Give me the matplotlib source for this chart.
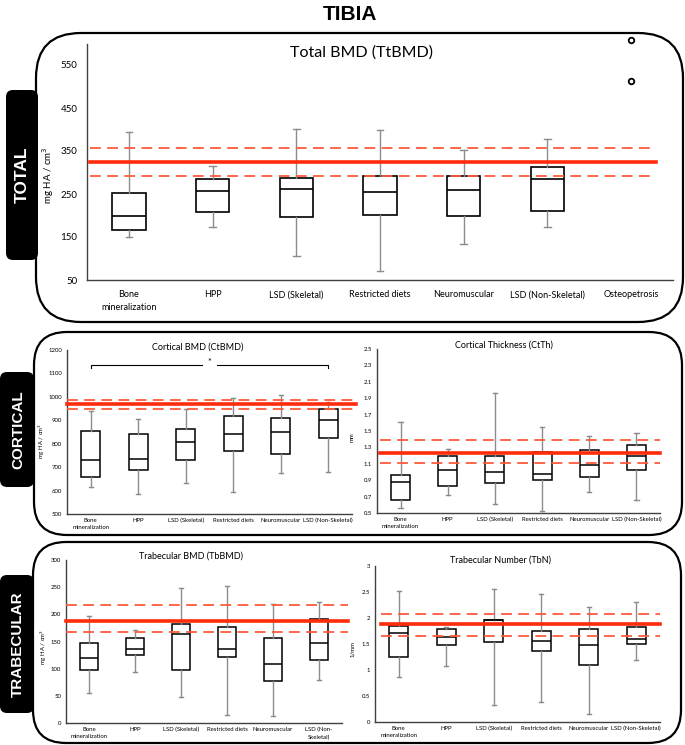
import matplotlib.pyplot as plt
from matplotlib.patches import FancyBboxPatch

plt.rcParams['font.family'] = ['Lato', 'DejaVu Sans']

W, H = 685, 745
RED = '#FF2B0A'
RED_DASH = '#FF5A3C'
WHISK = '#8C8C8C'
AXIS = '#404040'

groups7 = ['Bone\nmineralization', 'HPP', 'LSD (Skeletal)', 'Restricted diets',
           'Neuromuscular', 'LSD (Non-Skeletal)', 'Osteopetrosis']
groups6 = groups7[:6]
groups6_tb = groups7[:5] + ['LSD (Non-\nSkeletal)']

# Total BMD (mg HA / cm3)
tt_lo = [151, 173, 106, 70, 134, 173]
tt_q1 = [166, 208, 197, 201, 198, 211]
tt_med = [198, 257, 262, 254, 259, 284]
tt_q3 = [252, 285, 288, 291, 291, 312]
tt_hi = [394, 314, 402, 398, 352, 379]
tt_osteo = [607, 512]
tt_ref = [324, 291, 358]   # reference mean, lower, upper

# Cortical BMD (mg HA / cm3)
ct_lo = [614, 587, 634, 594, 674, 681]
ct_q1 = [659, 688, 730, 770, 755, 823]
ct_med = [730, 733, 809, 843, 849, 903]
ct_q3 = [854, 841, 864, 920, 908, 950]
ct_hi = [940, 905, 950, 997, 1007, 977]
ct_ref = [971, 948, 985]

# Cortical thickness (mm)
th_lo = [0.56, 0.72, 0.61, 0.53, 0.76, 0.66]
th_q1 = [0.66, 0.83, 0.87, 0.90, 0.94, 1.03]
th_med = [0.88, 1.03, 1.00, 0.98, 1.09, 1.20]
th_q3 = [0.96, 1.19, 1.20, 1.25, 1.27, 1.33]
th_hi = [1.61, 1.28, 1.96, 1.55, 1.44, 1.47]
th_ref = [1.23, 1.11, 1.39]

# Trabecular BMD (mg HA / cm3)
tb_lo = [56, 93, 47, 15, 13, 79]
tb_q1 = [97, 126, 98, 121, 77, 116]
tb_med = [119, 136, 164, 137, 108, 147]
tb_q3 = [147, 156, 182, 176, 156, 192]
tb_hi = [197, 171, 249, 252, 219, 223]
tb_ref = [188, 168, 218]

# Trabecular number (1/mm)
tn_lo = [0.87, 1.07, 0.32, 0.39, 0.16, 1.20]
tn_q1 = [1.25, 1.49, 1.53, 1.36, 1.09, 1.50]
tn_med = [1.72, 1.63, 1.96, 1.56, 1.49, 1.59]
tn_q3 = [1.85, 1.78, 1.97, 1.75, 1.79, 1.83]
tn_hi = [2.51, 1.83, 2.55, 2.47, 2.22, 2.31]
tn_ref = [1.88, 1.65, 2.08]

fig = plt.figure(figsize=(W / 100, H / 100), dpi=100, facecolor='white')

# background layer in pixel coordinates for frames and side labels
bg = fig.add_axes([0, 0, 1, 1], zorder=0)
bg.set_xlim(0, W)
bg.set_ylim(H, 0)
bg.axis('off')


def side_label(x0, y0, x1, y1, text, cx, cy, fs):
    bg.add_patch(FancyBboxPatch((x0, y0), x1 - x0, y1 - y0,
                                boxstyle='round,pad=0,rounding_size=7',
                                fc='black', ec='black', lw=0))
    bg.text(cx, cy, text, rotation=90, ha='center', va='center', color='white',
            fontsize=fs, fontweight='bold', family='Liberation Sans')


def frame(x0, y0, x1, y1, r):
    bg.add_patch(FancyBboxPatch((x0, y0), x1 - x0, y1 - y0,
                                boxstyle=f'round,pad=0,rounding_size={r}',
                                fc='none', ec='black', lw=1.6))


side_label(6, 90, 38, 260, 'TOTAL', 22, 175, 12.5)
side_label(0, 372, 34, 487, 'CORTICAL', 18, 430, 11)
side_label(0, 575, 34, 713, 'TRABECULAR', 18, 644, 11)
frame(36, 33, 683, 322, 45)
frame(34, 332, 682, 535, 33)
frame(33, 542, 681, 743, 33)

bg.text(350, 15, 'TIBIA', ha='center', va='center', fontsize=15,
        fontweight='bold', family='Liberation Sans')


def ax_px(x0, y0, x1, y1):
    return fig.add_axes([x0 / W, 1 - y1 / H, (x1 - x0) / W, (y1 - y0) / H], zorder=2)


def box_panel(ax, lo, q1, med, q3, hi, ref, ylim, yticks, yticklabels, labels,
              fs_tick, fs_x, capw, lw_box, ref_span, xpad, ypad):
    stats = [dict(whislo=a, q1=b, med=c, q3=d, whishi=e, fliers=[])
             for a, b, c, d, e in zip(lo, q1, med, q3, hi)]
    ax.bxp(stats, positions=range(1, len(stats) + 1), widths=0.4,
           capwidths=capw, showfliers=False, patch_artist=True,
           boxprops=dict(facecolor='white', edgecolor='black', linewidth=lw_box),
           medianprops=dict(color='black', linewidth=lw_box),
           whiskerprops=dict(color=WHISK, linewidth=1.0),
           capprops=dict(color=WHISK, linewidth=1.0), zorder=2)
    ax.axhline(ref[0], xmin=ref_span[0], xmax=ref_span[1], color=RED, lw=2.6,
               zorder=4, clip_on=False)
    for v in ref[1:]:
        ax.axhline(v, xmin=ref_span[0], xmax=ref_span[1], color=RED_DASH, lw=1.3,
                   ls=(0, (6, 3.5)), zorder=4, clip_on=False)
    ax.set_xlim(0.5, len(labels) + 0.5)
    ax.set_ylim(*ylim)
    ax.set_yticks(yticks)
    ax.set_yticklabels(yticklabels, fontsize=fs_tick)
    ax.set_xticks(range(1, len(labels) + 1))
    ax.set_xticklabels(labels, fontsize=fs_x, linespacing=1.5)
    ax.tick_params(length=0)
    ax.tick_params(axis='x', pad=xpad)
    ax.tick_params(axis='y', pad=ypad)
    for s in ['top', 'right']:
        ax.spines[s].set_visible(False)
    for s in ['left', 'bottom']:
        ax.spines[s].set_color(AXIS)
        ax.spines[s].set_linewidth(1.0)
    ax.set_facecolor('none')


# Total BMD
ax0 = ax_px(87, 43.5, 673, 280)
box_panel(ax0, tt_lo, tt_q1, tt_med, tt_q3, tt_hi, tt_ref, (50, 600),
          [50, 150, 250, 350, 450, 550], ['50', '150', '250', '350', '450', '550'],
          groups7, 7, 6.5, 0.08, 1.2, (0.005, 0.971), 7.5, 7)
ax0.plot([7] * len(tt_osteo), tt_osteo, 'o', mfc='white', mec='black', ms=4,
         mew=1.3, clip_on=False, zorder=5)
ax0.text(0.468, 0.96, 'Total BMD (TtBMD)', transform=ax0.transAxes,
         ha='center', va='center', fontsize=11.5)
ax0.set_ylabel(r'mg HA / cm$^3$', fontsize=7)
ax0.yaxis.set_label_coords(-31 / 586, 0.444)

# Cortical BMD
ax1 = ax_px(67, 350, 352, 514)
box_panel(ax1, ct_lo, ct_q1, ct_med, ct_q3, ct_hi, ct_ref, (500, 1200),
          list(range(500, 1201, 100)), [str(v) for v in range(500, 1201, 100)],
          groups6, 4.3, 4.3, 0.09, 1.1, (0, 1.015), 3, 3.5)
ax1.set_title('Cortical BMD (CtBMD)', fontsize=6.5, pad=0, x=0.46, y=1.0)
ax1.set_ylabel(r'mg HA / cm$^3$', fontsize=4.3)
ax1.yaxis.set_label_coords(-20 / 285, 0.445)
# significance bracket
ax1.plot([1, 1, 3.34], [1125, 1136, 1136], color='black', lw=0.8)
ax1.plot([3.66, 6, 6], [1136, 1136, 1125], color='black', lw=0.8)
ax1.text(3.5, 1146, '*', ha='center', va='center', fontsize=6.5)

# Cortical thickness
ax2 = ax_px(377, 349, 660, 513)
th_ticks = [0.5, 0.7, 0.9, 1.1, 1.3, 1.5, 1.7, 1.9, 2.1, 2.3, 2.5]
box_panel(ax2, th_lo, th_q1, th_med, th_q3, th_hi, th_ref, (0.5, 2.5),
          th_ticks, [f'{v:.1f}' for v in th_ticks],
          groups6, 4.3, 4.3, 0.09, 1.1, (0.01, 1.0), 3, 3.5)
ax2.set_title('Cortical Thickness (CtTh)', fontsize=6.5, pad=0, x=0.449, y=1.01)
ax2.set_ylabel('mm', fontsize=4.3)
ax2.yaxis.set_label_coords(-22 / 283, 0.46)

# Trabecular BMD
ax3 = ax_px(66, 560, 342, 723)
box_panel(ax3, tb_lo, tb_q1, tb_med, tb_q3, tb_hi, tb_ref, (0, 300),
          list(range(0, 301, 50)), [str(v) for v in range(0, 301, 50)],
          groups6_tb, 4.3, 4.3, 0.09, 1.1, (0, 1.02), 3, 3.5)
ax3.set_title('Trabecular BMD (TbBMD)', fontsize=6.5, pad=0, x=0.453, y=1.01)
ax3.set_ylabel(r'mg HA / cm$^3$', fontsize=4.3)
ax3.yaxis.set_label_coords(-17 / 276, 0.466)

# Trabecular number
ax4 = ax_px(375, 566, 660, 722)
tn_ticks = [0, 0.5, 1, 1.5, 2, 2.5, 3]
box_panel(ax4, tn_lo, tn_q1, tn_med, tn_q3, tn_hi, tn_ref, (0, 3),
          tn_ticks, ['0', '0.5', '1', '1.5', '2', '2.5', '3'],
          groups6, 4.3, 4.3, 0.09, 1.1, (0.02, 1.0), 3, 3.5)
ax4.set_title('Trabecular Number (TbN)', fontsize=6.5, pad=0, x=0.442, y=1.02)
ax4.set_ylabel('1/mm', fontsize=4.3)
ax4.yaxis.set_label_coords(-20 / 285, 0.47)

fig.savefig('out.png', dpi=100, facecolor='white')
